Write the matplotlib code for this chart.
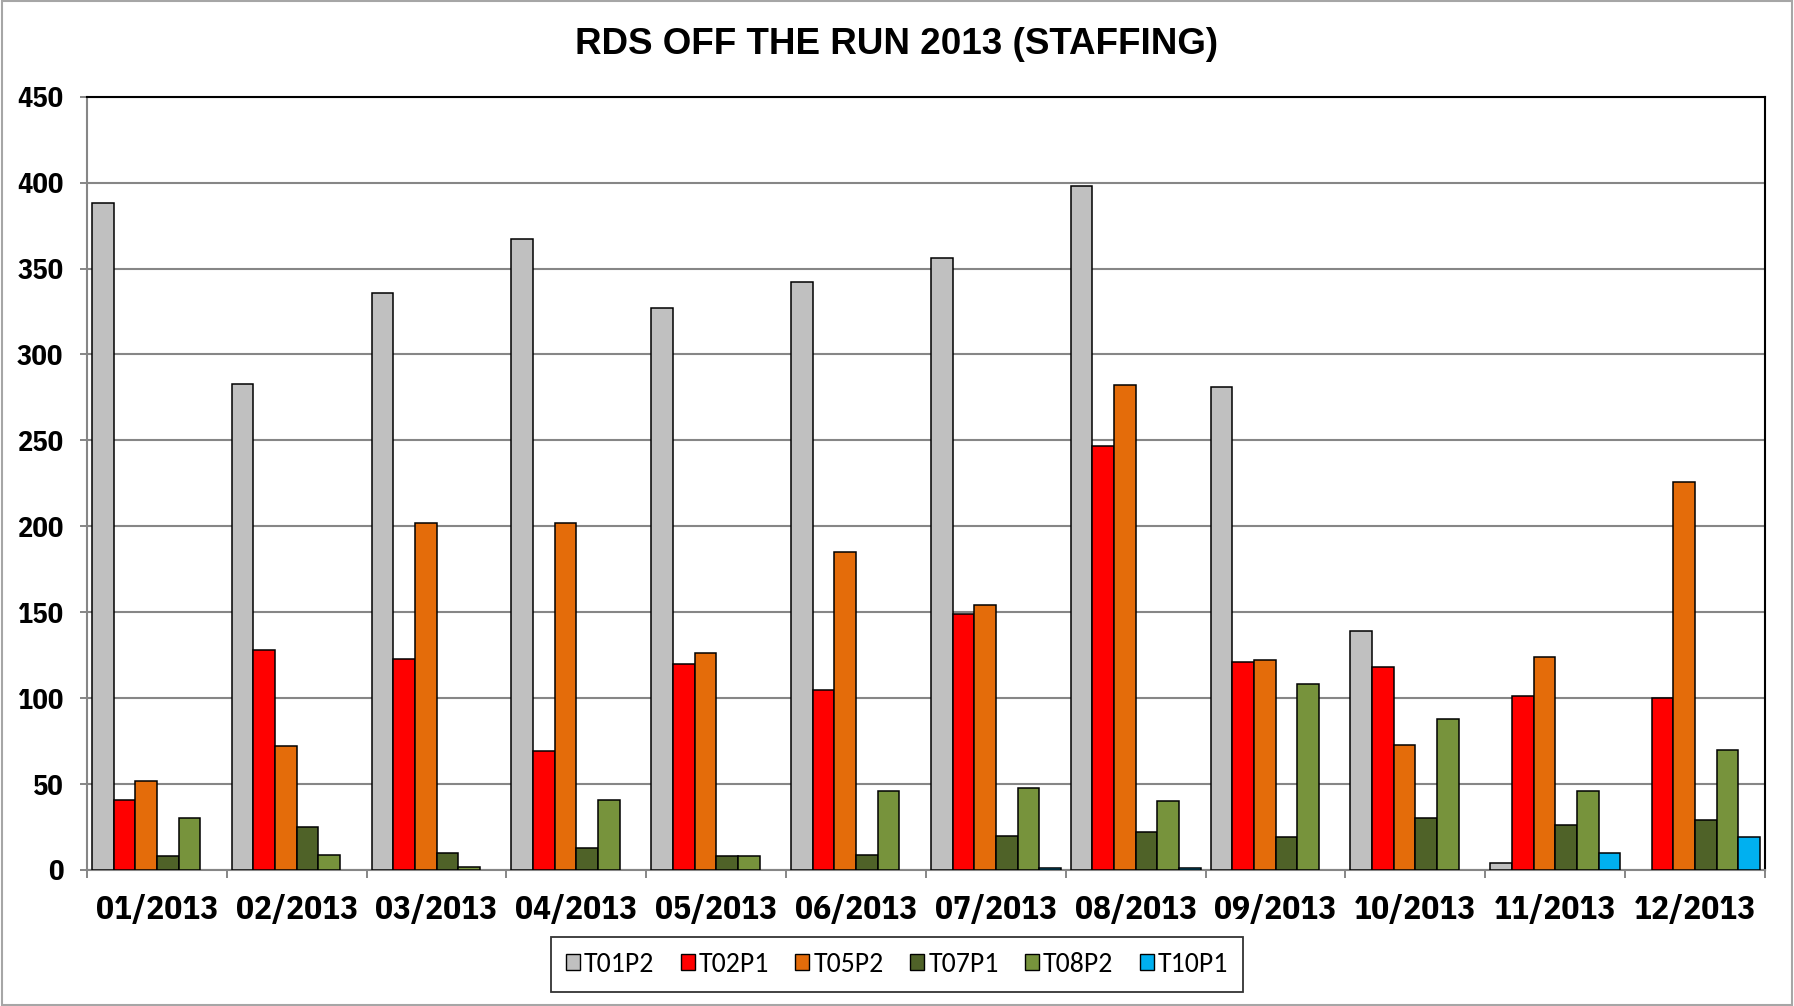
import matplotlib.pyplot as plt
import numpy as np
from matplotlib import font_manager
from matplotlib.patches import Rectangle

months = ['01/2013', '02/2013', '03/2013', '04/2013', '05/2013', '06/2013',
          '07/2013', '08/2013', '09/2013', '10/2013', '11/2013', '12/2013']

t01p2 = [388, 283, 336, 367, 327, 342, 356, 398, 281, 139, 4, 0]
t02p1 = [41, 128, 123, 69, 120, 105, 149, 247, 121, 118, 101, 100]
t05p2 = [52, 72, 202, 202, 126, 185, 154, 282, 122, 73, 124, 226]
t07p1 = [8, 25, 10, 13, 8, 9, 20, 22, 19, 30, 26, 29]
t08p2 = [30, 9, 2, 41, 8, 46, 48, 40, 108, 88, 46, 70]
t10p1 = [0, 0, 0, 0, 0, 0, 1, 1, 0, 0, 10, 19]

series_names = ['T01P2', 'T02P1', 'T05P2', 'T07P1', 'T08P2', 'T10P1']
series_vals = [t01p2, t02p1, t05p2, t07p1, t08p2, t10p1]
colors = ['#C0C0C0', '#FF0000', '#E46C0A', '#4F6228', '#77933C', '#00B0F0']


def first_font(options):
    names = {f.name for f in font_manager.fontManager.ttflist}
    for o in options:
        if o in names:
            return o
    return 'DejaVu Sans'


narrow = first_font(['Liberation Sans Narrow', 'Arial Narrow', 'IBM Plex Sans Condensed',
                     'Fira Sans Condensed'])
legend_font = first_font(['Carlito', 'Calibri', 'Liberation Sans'])

fig = plt.figure(figsize=(17.94, 10.06), dpi=100)
ax = fig.add_axes([0.0485, 0.1352, 0.9353, 0.7687])

n = len(series_names)
w = 1.0 / (n + 0.45)
x = np.arange(len(months))
for i, (name, vals, c) in enumerate(zip(series_names, series_vals, colors)):
    edges = ['black' if v > 0 else 'none' for v in vals]
    ax.bar(x + (i - (n - 1) / 2) * w, vals, width=w, color=c,
           edgecolor=edges, linewidth=1.1, label=name, zorder=3)

ax.set_xlim(-0.5, len(months) - 0.5)
ax.set_ylim(0, 450)
ax.set_yticks(np.arange(0, 451, 50))
ax.yaxis.grid(True, color='#868686', linewidth=1.5)
ax.set_axisbelow(True)

# boundaries carry the tick marks, centres carry the labels
ax.set_xticks(np.arange(-0.5, len(months), 1.0))
ax.set_xticklabels([])
ax.set_xticks(x, minor=True)
ax.set_xticklabels(months, minor=True, fontsize=24, fontweight='bold', family=narrow)
ax.tick_params(axis='x', which='major', direction='out', length=6, width=1.4, color='#868686')
ax.tick_params(axis='x', which='minor', length=0, pad=17)
ax.tick_params(axis='y', direction='out', length=5, width=1.4, color='#868686', pad=12)
for lbl in ax.get_yticklabels():
    lbl.set_fontsize(20.5)
    lbl.set_fontweight('bold')
    lbl.set_family(narrow)

for side in ['left', 'bottom']:
    ax.spines[side].set_color('#868686')
    ax.spines[side].set_linewidth(1.5)
for side in ['top', 'right']:
    ax.spines[side].set_color('black')
    ax.spines[side].set_linewidth(1.5)

fig.text(0.5, 0.9557, 'RDS OFF THE RUN 2013 (STAFFING)', ha='center', va='center',
         fontsize=26.5, fontweight='bold', family='Liberation Sans')

leg = fig.legend(loc='center', bbox_to_anchor=(0.5, 0.0413), ncol=6,
                 prop={'family': legend_font, 'size': 20},
                 handlelength=0.5, handleheight=0.5, handletextpad=0.15,
                 columnspacing=0.95, borderpad=0.55, fancybox=False, frameon=True)
leg.get_frame().set_edgecolor('black')
leg.get_frame().set_linewidth(1.3)
for h in leg.legend_handles:
    h.set_edgecolor('black')
    h.set_linewidth(1.0)

# outer chart border
fig.patches.append(Rectangle((0.001, 0.001), 0.998, 0.998, transform=fig.transFigure,
                             fill=False, edgecolor='#A6A6A6', linewidth=1.5))

fig.savefig('out.png', dpi=100)
